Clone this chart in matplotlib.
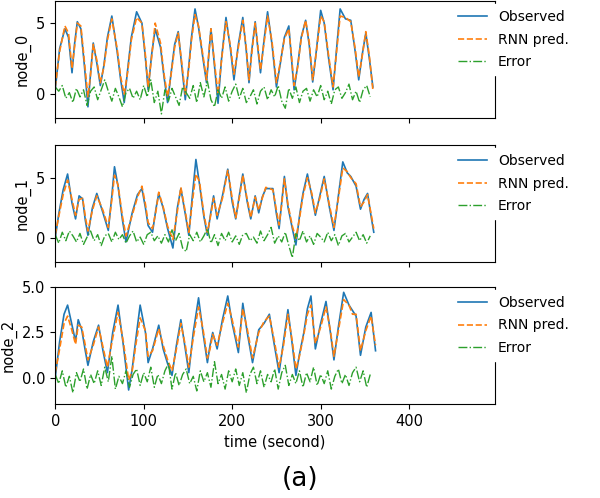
import numpy as np
import matplotlib
matplotlib.use('Agg')
import matplotlib.pyplot as plt

# node_0
t0 = [0,5,11,15,19,22,25,29,33,37,40,43,47,51,55,59,64,70,74,78,82,86,92,98,102,105,109,113,119,123,
      127,131,135,139,143,147,151,154,158,162,167,171,176,180,184,188,193,198,202,207,212,216,219,222,226,229,232,236,240,245,
      250,254,259,264,267,270,274,278,283,287,291,295,300,304,309,314,318,322,328,334,339,343,347,351,355,359]
obs0 = [0.3,3.2,4.6,4.0,1.5,3.6,5.1,4.6,2.0,-0.9,
        1.5,3.6,2.2,0.6,2.0,4.0,5.5,3.0,1.0,-0.6,
        1.8,4.0,5.8,5.0,2.5,0.3,2.8,4.6,3.3,1.2,
        -0.6,1.5,3.5,4.4,2.0,-0.4,2.0,4.0,6.0,4.7,
        2.5,0.8,4.6,2.0,-0.65,2.5,5.4,3.2,1.0,3.5,
        5.4,3.0,0.8,3.0,5.1,3.2,1.5,3.8,5.8,3.5,
        0.5,2.0,4.0,4.8,2.5,0.3,2.0,4.0,5.2,3.5,
        0.85,3.0,5.9,5.0,2.5,0.3,3.2,6.0,5.3,5.2,
        3.0,1.0,2.8,4.3,2.5,0.5]
pred0 = [0.5,3.0,4.8,4.3,1.8,3.4,5.0,4.8,2.3,-0.2,
         1.4,3.5,2.4,0.8,1.9,3.8,5.3,3.2,1.2,0.0,
         1.6,3.8,5.4,5.0,2.7,0.5,2.6,5.0,3.6,1.4,
         -0.2,1.4,3.3,4.3,2.2,0.0,1.8,3.8,5.6,4.8,
         2.7,1.0,4.6,2.2,0.0,2.4,5.1,3.4,1.4,3.3,
         5.2,3.2,1.0,2.8,5.0,3.4,1.7,3.6,5.5,3.7,
         0.8,2.1,3.9,4.6,2.7,0.6,1.9,3.9,5.2,3.7,
         1.0,2.9,5.5,5.1,2.7,0.5,3.0,5.5,5.4,5.1,
         3.2,1.2,2.7,4.4,2.7,0.3]
err0 = [0.5,0.2,0.6,-0.3,0.1,-0.6,0.4,-0.2,0.3,-0.8,0.2,0.5,-0.4,0.3,1.0,0.2,-0.5,0.4,-0.2,-0.9,
        0.1,0.4,-0.3,0.2,-0.4,0.6,-0.2,1.0,-0.6,0.2,-1.4,0.3,-0.5,0.4,-0.2,-0.8,0.5,0.1,-0.3,0.6,
        -0.6,0.8,-0.2,0.9,-0.4,-0.9,0.3,-0.3,0.5,-0.5,0.2,0.7,-0.3,0.4,-0.6,-0.2,0.3,-0.7,0.2,0.5,
        -0.4,0.3,-0.2,0.6,-0.5,-1.0,0.4,-0.3,0.5,-0.6,0.2,0.4,-0.5,0.3,-0.2,0.6,-0.4,0.2,-0.7,0.3,
        0.5,-0.3,0.1,0.7,-0.4,0.2,-0.6,0.3,0.6,-0.2]

# node_1
t1 = [0,4,9,14,19,23,27,31,34,37,42,47,54,60,64,67,71,76,80,87,93,98,102,105,110,114,117,122,127,133,
      138,142,147,151,155,159,163,168,172,176,179,183,189,195,200,204,208,212,217,221,226,230,234,238,246,250,253,256,259,263,
      268,272,276,280,285,290,294,299,304,310,315,320,325,330,334,340,345,349,353,357,360]
obs1 = [0.0,2.0,4.0,5.3,2.9,1.6,3.5,3.25,1.5,0.25,2.5,3.7,2.1,0.65,3.5,5.9,4.3,1.5,-0.3,2.1,
        3.6,4.1,2.5,1.05,0.5,2.5,3.7,2.5,0.8,-0.8,2.5,4.1,2.0,0.25,3.5,6.5,4.5,1.8,0.25,2.2,
        3.5,1.6,3.5,5.7,3.0,1.6,3.5,5.3,3.0,1.6,3.5,2.1,3.4,4.1,4.1,2.0,0.8,3.0,5.1,2.6,
        0.8,-0.55,1.8,3.7,5.3,3.5,1.9,3.5,5.1,2.5,0.65,3.5,6.3,5.4,5.1,4.3,2.4,3.2,3.7,1.8,0.5]
pred1 = [0.3,1.8,3.6,4.8,3.2,1.9,3.2,3.3,1.8,0.6,2.3,3.5,2.3,0.9,3.2,5.2,4.4,1.8,0.2,1.9,
         3.4,4.3,2.8,1.3,0.8,2.3,3.8,2.6,1.0,-0.1,2.2,4.2,2.2,0.5,3.0,5.3,4.7,2.0,0.5,2.0,
         3.3,1.9,3.3,5.6,3.3,1.7,3.3,5.2,3.2,1.7,3.4,2.3,3.3,4.2,4.0,2.3,1.1,2.8,4.9,2.8,
         1.0,0.0,1.6,3.5,5.0,3.7,2.1,3.3,4.9,2.7,0.9,3.3,5.8,5.5,5.0,4.5,2.6,3.0,3.6,2.0,0.8]
err1 = [0.3,-0.4,0.5,-0.2,0.6,0.2,-0.3,0.4,-0.5,0.1,0.6,-0.2,0.3,-0.6,0.2,0.4,-0.3,0.5,-0.1,0.3,
        -0.4,0.2,0.6,-0.3,0.1,-0.5,0.3,0.5,-0.2,0.2,-0.4,0.3,-0.3,0.7,-0.2,0.4,-0.8,-1.1,0.3,-0.2,
        0.5,-0.3,0.2,0.8,-0.4,0.3,-0.6,0.4,-0.2,0.5,-0.3,0.2,-0.5,0.3,0.4,-0.2,0.1,-0.4,0.6,-0.2,
        0.3,0.9,-0.4,0.2,-0.3,0.5,-0.6,-1.6,0.4,-0.2,0.6,-0.3,0.2,-0.5,0.4,0.1,-0.3,0.5,-0.2,0.3,
        -0.6,0.2,0.4,-0.3,0.1,0.5,-0.2,0.3,-0.4,0.2]

# node_2
t2 = [0,5,10,14,19,23,26,30,34,37,43,49,54,59,65,71,77,83,87,91,96,102,105,110,117,122,127,132,137,142,
      147,151,156,162,167,172,175,178,183,189,195,200,204,207,212,217,223,230,236,242,247,253,258,263,268,272,276,281,285,289,
      294,300,306,311,315,320,326,332,336,340,345,351,357,362]
obs2 = [0.0,2.0,3.5,4.0,2.9,2.0,3.2,2.65,1.5,0.7,2.0,2.9,1.5,0.3,2.5,4.0,1.8,-0.65,0.5,2.1,
        4.0,2.5,0.85,1.6,2.9,1.6,0.8,0.15,1.8,3.2,1.6,0.3,2.5,4.4,2.5,0.85,1.8,2.5,1.6,3.2,
        4.5,3.0,2.1,1.4,4.1,2.5,0.85,2.65,3.0,3.5,2.0,0.3,2.0,3.75,1.8,0.15,1.3,2.5,3.8,4.5,
        1.6,3.0,4.2,2.5,1.0,2.8,4.7,4.0,3.7,3.4,1.25,2.8,3.6,1.5]
pred2 = [0.3,1.6,3.0,3.4,2.6,1.85,2.9,2.8,1.8,1.0,1.8,2.8,1.7,0.6,2.2,3.6,2.0,-0.1,0.4,1.8,
         3.3,2.6,1.2,1.5,2.7,1.8,1.0,0.4,1.6,3.0,1.8,0.6,2.2,3.9,2.7,1.1,1.6,2.4,1.8,3.0,
         4.1,3.2,2.3,1.7,3.8,2.7,1.1,2.5,3.1,3.4,2.2,0.6,1.8,3.5,2.0,0.5,1.2,2.4,3.5,4.0,
         1.9,2.8,3.9,2.6,1.2,2.6,4.3,4.0,3.5,3.5,1.5,2.6,3.4,1.8]
err2 = [0.2,-0.3,0.4,-0.5,0.1,-0.8,0.3,-0.2,0.5,-0.6,0.2,-0.3,0.4,-0.4,0.6,-0.2,1.2,-0.6,0.1,-0.3,
        0.4,-0.5,0.2,0.5,-0.4,0.3,-0.2,0.6,-0.5,0.2,-0.3,0.4,0.8,-0.6,0.3,-0.4,0.2,0.5,-0.3,0.1,
        -0.7,0.4,-0.2,0.3,-0.5,0.9,-0.3,0.2,-0.6,0.4,-0.2,0.5,-0.4,0.3,-0.8,0.2,0.6,-0.3,0.4,-0.5,
        0.2,-0.2,0.5,-0.6,0.3,0.7,-0.4,0.2,-0.3,0.4,-0.5,0.3,-0.2,0.6,-0.4,0.2,-0.3,0.4,-0.6,0.1,
        0.5,-0.3,0.2,-0.4,0.3,0.6,-0.2,0.4,-0.5,0.2]

names = ['node_0', 'node_1', 'node_2']
times = [t0, t1, t2]
observed = [obs0, obs1, obs2]
predicted = [pred0, pred1, pred2]
errors = [err0, err1, err2]
ylims = [(-1.69, 6.56), (-1.95, 7.7), (-1.41, 5.0)]
yticks = [[0, 5], [0, 5], [0.0, 2.5, 5.0]]
bottoms = [0.763, 0.474, 0.189]

plt.rcParams['font.size'] = 10.5
fig = plt.figure(figsize=(6, 4.98), dpi=100)

for i in range(3):
    ax = fig.add_axes([0.092, bottoms[i], 0.733, 0.235])
    ax.plot(times[i], observed[i], color='#1f77b4', lw=1.2, label='Observed')
    ax.plot(times[i], predicted[i], '--', color='#ff7f0e', lw=1.2, label='RNN pred.')
    te = np.arange(len(errors[i])) * 4
    ax.plot(te, errors[i], '-.', color='#2ca02c', lw=1.0, label='Error')
    ax.set_xlim(0, 497)
    ax.set_ylim(*ylims[i])
    ax.set_yticks(yticks[i])
    ax.set_xticks([0, 100, 200, 300, 400])
    if i == 2:
        ax.set_yticklabels(['0.0', '2.5', '5.0'])
        ax.set_xlabel('time (second)')
    else:
        ax.set_xticklabels([])
    ax.set_ylabel(names[i])
    leg = ax.legend(loc='upper left', bbox_to_anchor=(0.887, 1.03), frameon=True,
                    fontsize=10, handlelength=2.1, labelspacing=0.62,
                    facecolor='white', edgecolor='white', framealpha=1.0)
    leg.set_zorder(5)

fig.text(0.5, 0.038, '(a)', ha='center', va='center', fontsize=19,
         family=['Liberation Sans Narrow', 'DejaVu Sans'])

fig.savefig('out.png', dpi=100)
